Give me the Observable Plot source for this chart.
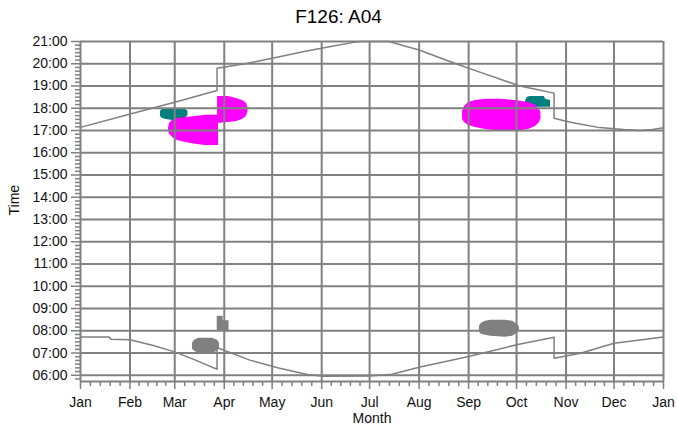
<!DOCTYPE html>
<html>
<head>
<meta charset="utf-8">
<script src="https://cdn.jsdelivr.net/npm/d3@7"></script>
<script src="https://cdn.jsdelivr.net/npm/@observablehq/plot@0.6"></script>
<style>
  html, body { margin: 0; padding: 0; background: #fff; }
  #title { width: 677px; height: 30px; box-sizing: border-box; padding-top: 6px; text-align: center;
           font: 19px "Liberation Sans", Arial, sans-serif; line-height: 22px; color: #000; }
  #chart svg { display: block; }
</style>
</head>
<body>
<div id="title">F126: A04</div>
<div id="chart"></div>
<script>
// ---- axis definitions ----
const monthStarts = [0, 31, 59, 90, 120, 151, 181, 212, 243, 273, 304, 334, 365];
const monthLabels = ["Jan", "Feb", "Mar", "Apr", "May", "Jun", "Jul", "Aug", "Sep", "Oct", "Nov", "Dec", "Jan"];
const hourTicks = [6, 7, 8, 9, 10, 11, 12, 13, 14, 15, 16, 17, 18, 19, 20, 21];

// ---- sunset / sunrise (day of year, clock hour) ----
const sunsetDay  = [0, 30, 59, 85.5, 85.5, 103, 120, 140, 160, 170, 175, 193, 212, 235, 255, 275, 285, 296.5, 296.5, 304, 310, 325, 340, 350, 358, 365];
const sunsetHour = [17.14, 17.72, 18.27, 18.8, 19.8, 20.0, 20.25, 20.55, 20.82, 20.95, 21.0, 21.0, 20.62, 20.0, 19.5, 19.0, 18.85, 18.68, 17.55, 17.42, 17.33, 17.13, 17.04, 17.0, 17.05, 17.12];
const sunriseDay  = [0, 18, 19, 31, 45, 59, 72, 85.5, 85.5, 87, 106, 124, 142, 152, 181, 195, 212, 243, 273, 296.5, 296.5, 313, 334, 365];
const sunriseHour = [7.72, 7.72, 7.62, 7.60, 7.35, 7.05, 6.68, 6.27, 7.27, 7.2, 6.68, 6.33, 6.03, 5.96, 5.97, 6.05, 6.36, 6.84, 7.37, 7.71, 6.76, 6.99, 7.44, 7.72];

// ---- activity blobs: [day, low hour, high hour] ----
const tealMar = [[50.1, 17.63, 17.86], [51.3, 17.54, 17.95], [53.8, 17.5, 17.99], [57.6, 17.45, 17.99], [62.6, 17.45, 17.99], [65.7, 17.54, 17.95], [67.3, 17.68, 17.86]];
const tealOct = [[278.6, 18.04, 18.31], [279.8, 18.04, 18.49], [281.7, 18.04, 18.53], [290.5, 18.04, 18.53], [291.1, 18.04, 18.4], [294.3, 18.04, 18.35]];
const magentaMar = [[55.1, 17.05, 17.09], [55.7, 16.84, 17.32], [57.6, 16.69, 17.45], [60.7, 16.55, 17.54], [65.7, 16.46, 17.59], [72.0, 16.38, 17.63], [78.3, 16.33, 17.68], [86.4, 16.33, 17.68]];
const magentaApr = [[85.8, 17.32, 18.53], [92.7, 17.36, 18.53], [97.7, 17.41, 18.44], [101.4, 17.5, 18.35], [103.9, 17.63, 18.22], [104.9, 17.86, 17.99]];
const magentaSep = [[239.2, 17.5, 17.86], [240.4, 17.36, 18.08], [242.9, 17.23, 18.26], [247.3, 17.14, 18.35], [253.6, 17.05, 18.4], [263.0, 16.96, 18.4], [272.3, 16.96, 18.35], [280.5, 17.05, 18.26], [284.9, 17.18, 18.13], [287.4, 17.36, 17.95], [288.3, 17.54, 17.77]];
const grayMar = [[70.1, 7.17, 7.44], [71.4, 7.08, 7.57], [73.9, 6.99, 7.66], [82.6, 6.99, 7.66], [85.8, 7.08, 7.57], [87.0, 7.21, 7.44]];
const grayApr = [[85.6, 8.0, 8.65], [89.3, 8.0, 8.65], [89.3, 8.0, 8.45], [93.0, 8.0, 8.45]];
const graySep = [[249.8, 7.93, 8.2], [251.0, 7.84, 8.34], [253.6, 7.8, 8.43], [256.7, 7.75, 8.47], [266.1, 7.71, 8.47], [270.5, 7.75, 8.43], [273.6, 7.89, 8.29], [274.8, 8.02, 8.16]];

const GRID = "#808080";
const sunset = sunsetDay.map((d, i) => ({day: d, hour: sunsetHour[i]}));
const sunrise = sunriseDay.map((d, i) => ({day: d, hour: sunriseHour[i]}));
const monthLabelMap = new Map(monthStarts.map((d, i) => [d, monthLabels[i]]));
const minorX = [];
for (let i = 0; i < 12; i++) {
  const a = monthStarts[i], len = monthStarts[i + 1] - a;
  for (let k = 1; k < 5; k++) minorX.push(a + k * len / 5);
}
const minorY = [];
for (let m = 35; m <= 126; m++) if (m % 6 !== 0) minorY.push(m / 6);
const yMin = 5.72;

const blob = (rows, fill) => Plot.areaY(rows, {x: d => d[0], y1: d => d[1], y2: d => d[2], fill, curve: "linear"});
const fmtH = h => String(h).padStart(2, "0") + ":00";

const chart = Plot.plot({
  width: 677,
  height: 402,
  marginLeft: 80,
  marginRight: 14,
  marginTop: 11,
  marginBottom: 51,
  style: {fontFamily: "'Liberation Sans', Arial, sans-serif", fontSize: "14px", color: "#111", background: "#fff"},
  x: {domain: [0, 365]},
  y: {domain: [yMin, 21]},
  marks: [
    blob(tealMar, "#007f7f"),
    blob(tealOct, "#007f7f"),
    blob(magentaMar, "#ff00ff"),
    blob(magentaApr, "#ff00ff"),
    blob(magentaSep, "#ff00ff"),
    blob(grayMar, "#808080"),
    blob(grayApr, "#808080"),
    blob(graySep, "#808080"),
    Plot.ruleX(monthStarts, {stroke: GRID, strokeWidth: 2}),
    Plot.ruleY(hourTicks, {stroke: GRID, strokeWidth: 2}),
    Plot.ruleY([yMin], {stroke: GRID, strokeWidth: 2}),
    Plot.line(sunset, {x: "day", y: "hour", stroke: GRID, strokeWidth: 1.5}),
    Plot.line(sunrise, {x: "day", y: "hour", stroke: GRID, strokeWidth: 1.5}),
    Plot.axisX(monthStarts, {tickSize: 8, tickPadding: 8, tickFormat: d => monthLabelMap.get(d), stroke: GRID, fill: "#111", strokeWidth: 1.5, label: null}),
    Plot.axisX(minorX, {tickSize: 5, tickFormat: () => "", stroke: GRID, strokeWidth: 1.5, label: null}),
    Plot.axisY(hourTicks, {tickSize: 9, tickPadding: 4, tickFormat: fmtH, stroke: GRID, fill: "#111", strokeWidth: 1.5, label: null}),
    Plot.axisY(minorY, {tickSize: 5, tickFormat: () => "", stroke: GRID, strokeWidth: 1.5, label: null}),
    Plot.text(["Time"], {frameAnchor: "left", dx: -66, dy: 4, rotate: -90, fill: "#111", fontSize: 14}),
    Plot.text(["Month"], {frameAnchor: "bottom", dy: 41, fill: "#111", fontSize: 14})
  ]
});
document.getElementById("chart").appendChild(chart);
</script>
</body>
</html>
